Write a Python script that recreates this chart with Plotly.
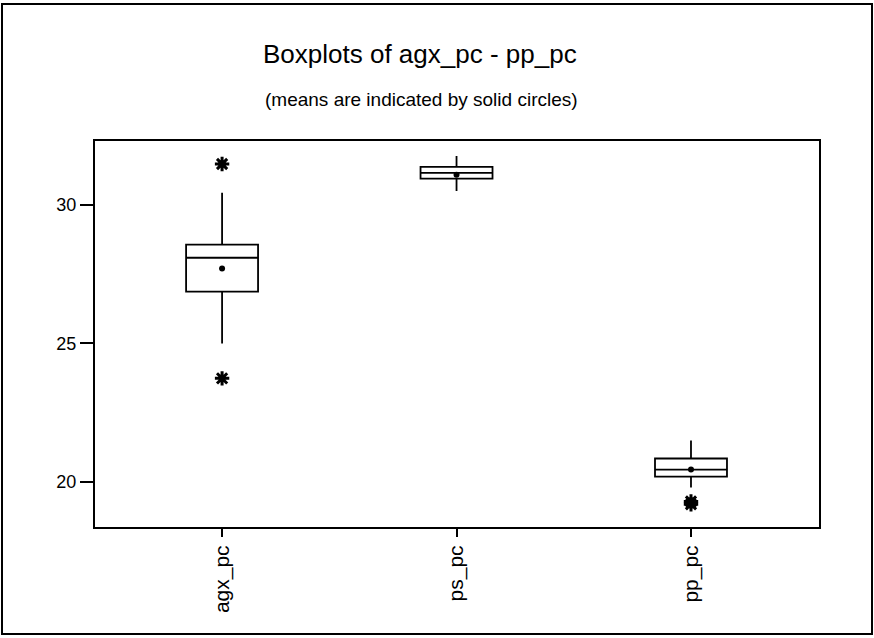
import plotly.graph_objects as go

W, H = 874, 638
categories = ["agx_pc", "ps_pc", "pp_pc"]
positions = [1, 2, 3]
q1 = [26.87, 30.94, 20.2]
median = [28.09, 31.15, 20.45]
q3 = [28.56, 31.37, 20.85]
lower_whisker = [25.0, 30.5, 19.8]
upper_whisker = [30.43, 31.76, 21.5]
means = [27.7, 31.08, 20.45]
outlier_x = [1, 1, 3, 3]
outlier_y = [31.47, 23.74, 19.2, 19.3]
y_ticks = [20, 25, 30]

L, R, T, B = 95, 55, 141, 111
pw, ph = W - L - R, H - T - B

fig = go.Figure()
fig.add_trace(go.Box(
    x=positions, q1=q1, median=median, q3=q3,
    lowerfence=lower_whisker, upperfence=upper_whisker,
    boxpoints=False, whiskerwidth=0, width=0.307,
    fillcolor="white", line=dict(color="black", width=1.8),
    showlegend=False, hoverinfo="skip"))
fig.add_trace(go.Scatter(
    x=positions, y=means, mode="markers",
    marker=dict(symbol="circle", size=6, color="black"),
    showlegend=False))
fig.add_trace(go.Scatter(
    x=outlier_x, y=outlier_y, mode="markers",
    marker=dict(symbol="asterisk-open", size=12, color="black",
                line=dict(color="black", width=3)),
    showlegend=False))

fig.update_layout(
    width=W, height=H,
    margin=dict(l=L, r=R, t=T, b=B, pad=0),
    paper_bgcolor="white", plot_bgcolor="white",
    font=dict(family="Liberation Sans, Arial, sans-serif", color="black", size=16),
    xaxis=dict(range=[0.458, 3.546], tickmode="array", tickvals=positions,
               ticktext=categories, tickangle=-90, ticks="outside", ticklen=8,
               tickwidth=1.8, tickcolor="black", showgrid=False, zeroline=False,
               showline=True, linecolor="black", linewidth=2, mirror=True,
               tickfont=dict(size=21)),
    yaxis=dict(range=[18.38, 32.3], tickmode="array", tickvals=y_ticks,
               ticks="outside", ticklen=13, tickwidth=1.8, tickcolor="black",
               showgrid=False, zeroline=False, showline=True, linecolor="black",
               linewidth=2, mirror=True, tickfont=dict(size=18)),
    annotations=[
        dict(text="Boxplots of agx_pc - pp_pc", xref="paper", yref="paper",
             x=(420 - L) / pw, y=(H - 54 - B) / ph, showarrow=False,
             xanchor="center", yanchor="middle", font=dict(size=26)),
        dict(text="(means are indicated by solid circles)", xref="paper", yref="paper",
             x=(421 - L) / pw, y=(H - 99 - B) / ph, showarrow=False,
             xanchor="center", yanchor="middle", font=dict(size=19)),
    ],
    shapes=[dict(type="rect", xref="paper", yref="paper",
                 x0=(2 - L) / pw, x1=(872 - L) / pw,
                 y0=(H - 634 - B) / ph, y1=(H - 4 - B) / ph,
                 line=dict(color="black", width=2), fillcolor="rgba(0,0,0,0)",
                 layer="below")],
)
fig.write_html("out.html")
